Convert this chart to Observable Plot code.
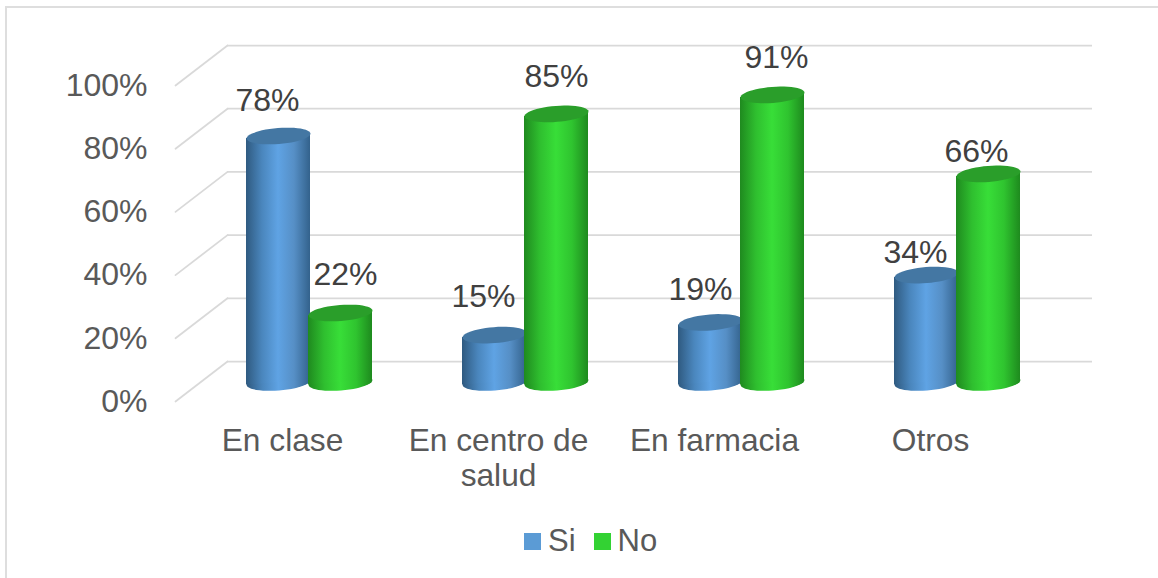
<!DOCTYPE html>
<html>
<head>
<meta charset="utf-8">
<script src="https://cdn.jsdelivr.net/npm/d3@7"></script>
<script src="https://cdn.jsdelivr.net/npm/@observablehq/plot@0.6"></script>
<style>
html,body{margin:0;padding:0;background:#fff;}
#frame{position:absolute;left:5px;top:6px;right:0;bottom:0;border-top:2px solid #dedede;border-left:2px solid #dedede;}
#chart{position:absolute;left:0;top:0;width:1158px;height:578px;overflow:hidden;font-family:"Liberation Sans",Arial,sans-serif;}
#legend{position:absolute;left:524px;top:523px;width:400px;}
</style>
</head>
<body>
<div id="chart"><div id="frame"></div></div>
<script>
const categories = ["En clase", "En centro de salud", "En farmacia", "Otros"];
const seriesNames = ["Si", "No"];
const siValues = [78, 15, 19, 34];
const noValues = [22, 85, 91, 66];
const yTicks = [0, 20, 40, 60, 80, 100];

const barColors = ["#5b9bd5", "#33d233"];
const topColors = ["#4477a3", "#2a9e2a"];
const gradientStops = [
  [["0%", "#2f5a80"], ["25%", "#4a86bd"], ["50%", "#5fa3e4"], ["75%", "#568fc6"], ["100%", "#33628c"]],
  [["0%", "#1f8a1f"], ["25%", "#2fbf2f"], ["50%", "#38de38"], ["75%", "#2fc42f"], ["100%", "#1e8a1e"]]
];
// Per-label nudges from the top of each cylinder, as in the source chart.
const labelNudges = [
  [[-11, -35], [-11, -38], [-10, -33], [-11, -22]],
  [[5, -38], [0, -37], [4, -37], [-12, -22]]
];
const seriesValues = [siValues, noValues];

const depthBars = {dy: -19, dxBySeries: [-6, 56]};
const backWall = {dx: 52, dy: -40};
const ellipse = {rx: 32, ratio: 0.25, tilt: -4.5 * Math.PI / 180};

const ellipseSymbol = {
  draw(ctx, size) {
    const rx = Math.sqrt(size / Math.PI), ry = rx * ellipse.ratio;
    const c = Math.cos(ellipse.tilt), s = Math.sin(ellipse.tilt);
    for (let i = 0; i < 48; i++) {
      const t = i / 48 * 2 * Math.PI;
      const px = rx * Math.cos(t), py = ry * Math.sin(t);
      const X = px * c - py * s, Y = px * s + py * c;
      i ? ctx.lineTo(X, Y) : ctx.moveTo(X, Y);
    }
    ctx.closePath();
  }
};
const segment = {
  draw(ctx, l) { ctx.moveTo(0, 0); ctx.lineTo(0, -l); }
};

function defs() {
  const d = d3.create("svg:defs");
  gradientStops.forEach((stops, i) => {
    const g = d.append("linearGradient").attr("id", "cyl" + i).attr("x1", 0).attr("x2", 1).attr("y1", 0).attr("y2", 0);
    stops.forEach(([o, c]) => g.append("stop").attr("offset", o).attr("stop-color", c));
  });
  return d.node();
}

function shear(index, scales, values, dims, ctx, next) {
  const g = next(index, scales, values, dims, ctx);
  d3.select(g).selectAll("rect").each(function () {
    const cx = +this.getAttribute("x") + this.getAttribute("width") / 2;
    this.setAttribute("transform", `translate(${cx},0) skewY(${ellipse.tilt * 180 / Math.PI}) translate(${-cx},0)`);
  });
  return g;
}

const marks = [
  defs,
  Plot.ruleY(yTicks, {dx: backWall.dx, dy: backWall.dy, stroke: "#d9d9d9", strokeWidth: 1.75}),
  Plot.vector(yTicks, {
    y: d => d, frameAnchor: "left", length: Math.hypot(backWall.dx, backWall.dy),
    rotate: Math.atan2(backWall.dx, -backWall.dy) * 180 / Math.PI,
    anchor: "start", shape: segment, stroke: "#d9d9d9", strokeWidth: 1.75
  })
];

seriesNames.forEach((name, s) => {
  const rows = categories.map((c, i) => ({category: c, value: seriesValues[s][i], i}));
  const pos = {x: "category", dx: depthBars.dxBySeries[s], dy: depthBars.dy};
  marks.push(
    Plot.dot(rows, {...pos, y: () => 0, r: ellipse.rx, symbol: ellipseSymbol, fill: `url(#cyl${s})`}),
    Plot.barY(rows, {...pos, y: "value", insetLeft: 76, insetRight: 76, fill: `url(#cyl${s})`, render: shear}),
    Plot.dot(rows, {...pos, y: "value", r: ellipse.rx, symbol: ellipseSymbol, fill: topColors[s]})
  );
});
seriesNames.forEach((name, s) => {
  categories.forEach((c, i) => {
    const [nx, ny] = labelNudges[s][i];
    marks.push(Plot.text([{category: c, value: seriesValues[s][i]}], {
      x: "category", y: "value", text: d => d.value + "%",
      dx: depthBars.dxBySeries[s] + nx, dy: depthBars.dy + ny,
      fontSize: 32, fill: "#404040"
    }));
  });
});
marks.push(
  Plot.axisY(yTicks, {anchor: "left", tickSize: 0, tickPadding: 28, tickFormat: d => d + "%", label: null, fontSize: 32, color: "#595959"}),
  Plot.axisX({anchor: "bottom", tickSize: 0, tickPadding: 24, dx: -2, label: null, fontSize: 31.7, color: "#595959", lineHeight: 1.125, lineAnchor: "top",
    tickFormat: d => d.replace(" de salud", " de\nsalud")})
);

const chart = Plot.plot({
  width: 1158, height: 510,
  marginLeft: 175, marginRight: 118, marginTop: 85, marginBottom: 109,
  style: {background: "transparent", fontFamily: '"Liberation Sans",Arial,sans-serif', overflow: "visible"},
  x: {type: "band", domain: categories, padding: 0, axis: null},
  y: {domain: [0, 100], axis: null},
  color: {domain: seriesNames, range: barColors},
  marks
});
chart.style.position = "absolute";
chart.style.left = "0"; chart.style.top = "0";
document.getElementById("chart").appendChild(chart);

const legend = chart.legend("color", {swatchSize: 17, swatchWidth: 17, swatchHeight: 17,
  style: {fontSize: "31px", fontFamily: '"Liberation Sans",Arial,sans-serif', color: "#595959", justifyContent: "flex-start", background: "transparent", marginLeft: "0", minHeight: "0"}});
legend.querySelectorAll("span").forEach(sp => {
  sp.style.marginRight = "18px";
  sp.style.marginLeft = "0";
  const sw = sp.querySelector("svg");
  if (sw) sw.style.marginRight = "7px";
});
const holder = document.createElement("div");
holder.id = "legend";
holder.appendChild(legend);
document.getElementById("chart").appendChild(holder);
</script>
</body>
</html>
